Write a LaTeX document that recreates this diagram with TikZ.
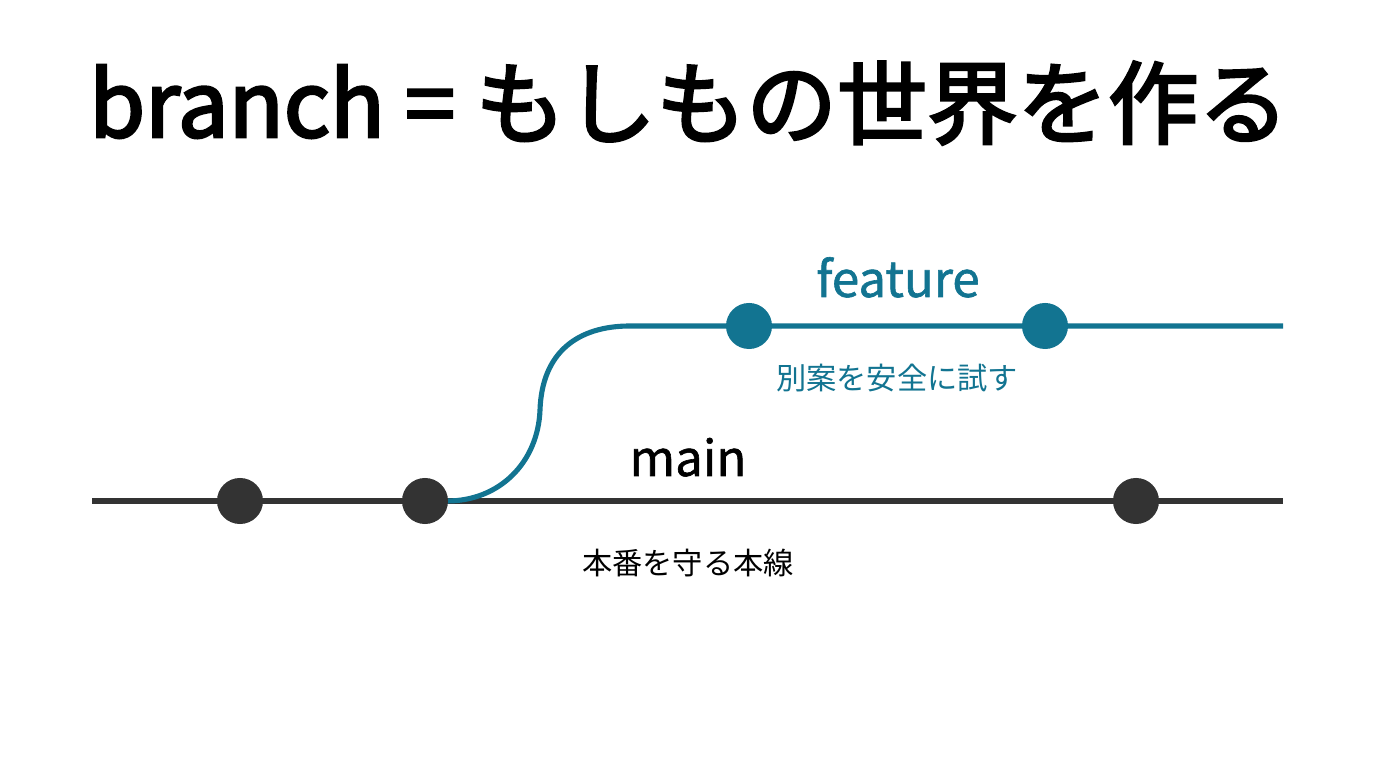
\documentclass[tikz,border=0pt]{standalone}
\usepackage{fontspec}
\setmainfont{Noto Sans CJK JP}
\newfontfamily\medfont[FakeBold=3]{Noto Sans CJK JP}
\newfontfamily\semifont[FakeBold=1.2]{Noto Sans CJK JP}
\usetikzlibrary{positioning}
\definecolor{mainline}{HTML}{333333}
\definecolor{featline}{HTML}{127491}

\begin{document}
\begin{tikzpicture}[
    x=0.01cm, y=-0.01cm,
    commit/.style={circle, fill=#1, minimum size=0.46cm, inner sep=0pt},
    track/.style={line width=1.45pt, draw=#1},
    label/.style={font=\semifont\fontsize{14}{16}\selectfont, text=#1, anchor=base},
    note/.style={font=\fontsize{8.6}{10}\selectfont, text=#1}
  ]
    \useasboundingbox[fill=white] (0,0) rectangle (1376,768);

    % title
    \node[anchor=base, font=\medfont\fontsize{25.7}{30}\selectfont] (title) at (689,137) {branch = もしもの世界を作る};

    % main line
    \coordinate (mstart) at (92,501);
    \coordinate (mend) at (1283,501);
    \draw[track=mainline] (mstart) -- (mend);

    % feature line
    \coordinate (fork) at (447,501);
    \coordinate (bend) at (540,410);
    \coordinate (ftop) at (630,326);
    \coordinate (fend) at (1283,326);
    \draw[track=featline] (fork) .. controls (500,501) and (538,462) .. (bend)
      .. controls (542,352) and (578,326) .. (ftop) -- (fend);

    % commits
    \node[commit=mainline] (m1) at (240,501) {};
    \node[commit=mainline] (m2) at (425,501) {};
    \node[commit=mainline] (m3) at (1136,501) {};
    \node[commit=featline] (f1) at (749,326) {};
    \node[commit=featline] (f2) at (1045,326) {};

    % labels
    \node[label=featline] (featname) at (898,297) {feature};
    \node[note=featline] (featnote) at (897,378) {別案を安全に試す};
    \node[label=black] (mainname) at (688,476) {main};
    \node[note=black] (mainnote) at (688,563) {本番を守る本線};
  \end{tikzpicture}
\end{document}
